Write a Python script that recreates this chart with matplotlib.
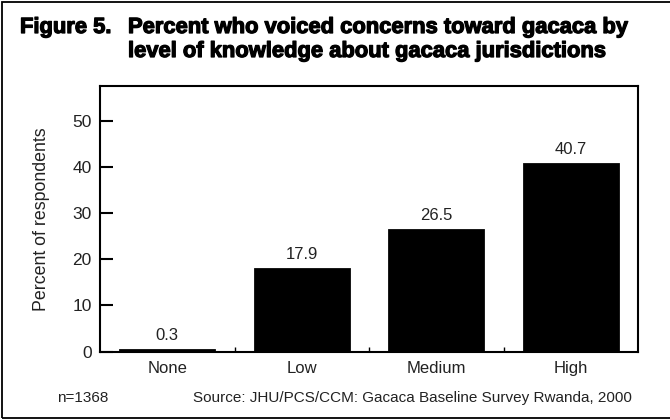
import matplotlib
matplotlib.use("Agg")
import matplotlib.pyplot as plt
import matplotlib.patheffects as pe
from matplotlib.patches import Rectangle

categories = ["None", "Low", "Medium", "High"]
percent = [0.3, 17.9, 26.5, 40.7]
yticks = [0, 10, 20, 30, 40, 50]

W, H = 670, 420
BODY = ["Liberation Sans", "DejaVu Sans"]

plt.rcParams["font.family"] = BODY

fig = plt.figure(figsize=(W / 100, H / 100), dpi=100)


def fx(px):
    return px / W


def fy(py):
    return 1 - py / H


# Frame around the figure (open on the right side)
fig.patches.append(Rectangle((fx(1.5), fy(418)), fx(700), fy(1.5) - fy(418),
                             transform=fig.transFigure, fill=False,
                             edgecolor="black", linewidth=1.3, zorder=0))

# Title, set heavy with a thin outline stroke
title_kw = dict(family=BODY, weight="bold", fontsize=15.8, va="baseline",
                ha="left",
                path_effects=[pe.withStroke(linewidth=0.9, foreground="black")])
fig.text(fx(20), fy(33), "Figure 5.", **title_kw)
fig.text(fx(128), fy(33), "Percent who voiced concerns toward gacaca by",
         **title_kw)
fig.text(fx(128), fy(57), "level of knowledge about gacaca jurisdictions",
         **title_kw)

ax = fig.add_axes([fx(100), fy(351.5), fx(638) - fx(100), fy(86) - fy(351.5)])

x = range(len(categories))
ax.bar(x, percent, width=0.70, color="black", edgecolor="black",
       linewidth=2, zorder=2)

for xi, v in zip(x, percent):
    ax.annotate(f"{v:.1f}", (xi, v), xytext=(0, 5), textcoords="offset points",
                ha="center", va="bottom", fontsize=12, color="#222222")

ax.set_xlim(-0.5, len(categories) - 0.5)
ax.set_ylim(0, 57.7)
ax.set_yticks(yticks)
ax.set_xticks(list(x))
ax.set_xticklabels(categories)
ax.set_xticks([0.5, 1.5, 2.5], minor=True)

ax.tick_params(axis="y", direction="in", length=9.5, width=1.5, pad=6,
               labelsize=12.5, labelcolor="#222222")
ax.tick_params(axis="x", which="major", length=0, pad=7, labelsize=12,
               labelcolor="#222222")
ax.tick_params(axis="x", which="minor", direction="in", length=3.6, width=1)

for s in ax.spines.values():
    s.set_linewidth(1.5)

# Y-axis title
fig.text(fx(42), fy(218.75), "Percent of respondents", rotation=90,
         fontsize=12.8, color="#222222", ha="center", va="center")

# Footnotes
fig.text(fx(57), fy(402), "n=1368", fontsize=11, va="baseline", ha="left",
         color="#222222")
fig.text(fx(193), fy(402), "Source: JHU/PCS/CCM: Gacaca Baseline Survey Rwanda, 2000",
         fontsize=11, va="baseline", ha="left", color="#222222")

fig.savefig("out.png", dpi=100)
